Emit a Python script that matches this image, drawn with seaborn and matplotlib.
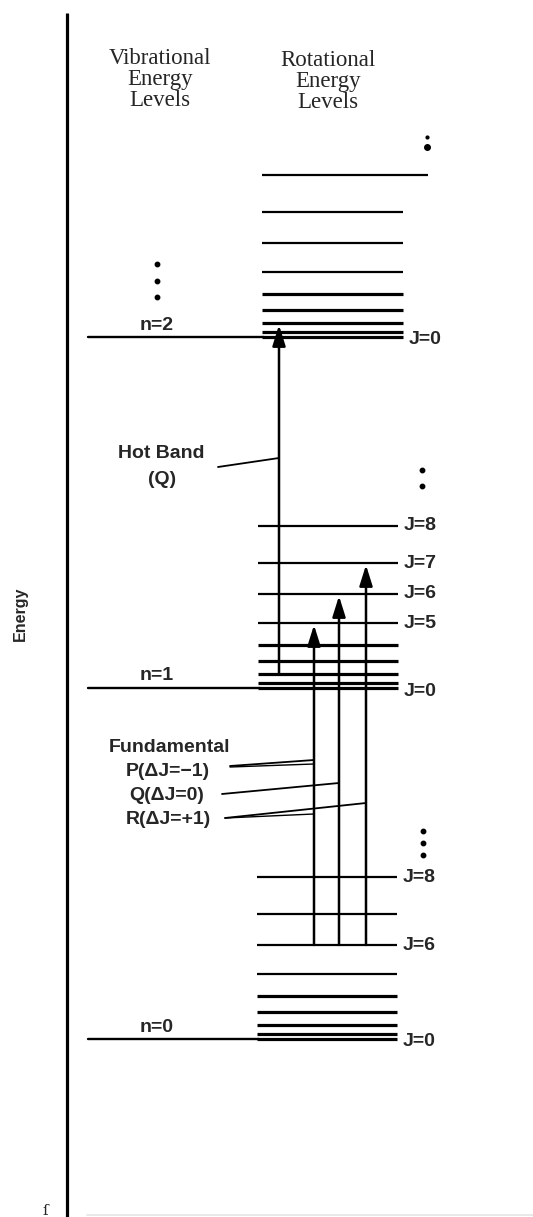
import numpy as np
import pandas as pd
import seaborn as sns
import matplotlib.pyplot as plt

# Niveis de energia (unidades arbitrarias, eixo para cima)
vib_labels = ["n=0", "n=1", "n=2"]
vib_energy = [178, 529, 880]
rot_J = [0, 1, 2, 3, 4, 5, 6, 7, 8]
rot_offset = [0, 5, 14, 27, 43, 65, 94, 125, 162]

# rotulos J mostrados em cada nivel vibracional
j_labels = {0: [0, 6, 8], 1: [0, 5, 6, 7, 8], 2: [0]}

# transicoes (n_inicial, J_inicial, n_final, J_final)
hot_band = (1, 2, 2, 2)
fundamental = {"P": (0, 6, 1, 5), "Q": (0, 6, 1, 6), "R": (0, 6, 1, 7)}

sns.set_theme(style="white")
plt.rcParams["font.family"] = ["Liberation Sans", "DejaVu Sans"]

W, H = 533, 1217
fig = plt.figure(figsize=(W / 100, H / 100), dpi=100)
ax = fig.add_axes([0, 0, 1, 1])
ax.set_xlim(0, W)
ax.set_ylim(0, H)
ax.axis("off")


def E(n, J):
    return vib_energy[n] + rot_offset[J]


# eixo de energia
ax.plot([67, 67], [0, H - 13], color="black", lw=2.3, solid_capstyle="butt")
ax.text(20, H - 614, "Energy", rotation=90, ha="center", va="center",
        fontsize=11.5, fontweight="bold")
ax.text(45, 6, "ſ", ha="center", va="center", fontsize=11, family="DejaVu Serif")
ax.plot([87, W], [2, 2], color="#e4e4e4", lw=1.2)

# titulos
serif = ["Liberation Serif", "DejaVu Serif"]
ax.text(160, H - 80, "Vibrational\nEnergy\nLevels", ha="center", va="center",
        fontsize=16.5, family=serif, linespacing=1.0)
ax.text(328, H - 81, "Rotational\nEnergy\nLevels", ha="center", va="center",
        fontsize=16.5, family=serif, linespacing=1.0)

# x de cada conjunto rotacional
rot_x = {0: (257, 397), 1: (258, 398), 2: (262, 403)}

for n, lab in enumerate(vib_labels):
    x0, x1 = rot_x[n]
    ax.plot([88, x0 + 2], [vib_energy[n]] * 2, color="black", lw=1.7)
    ax.text(157, vib_energy[n] + 12, lab, ha="center", va="center",
            fontsize=14, fontweight="bold")
    for J in rot_J:
        lw = 2.3 if J <= 4 else 1.6
        xe = x1
        if n == 2 and J == 8:
            xe = 428
        ax.plot([x0, xe], [E(n, J)] * 2, color="black", lw=lw, solid_capstyle="butt")
    for J in j_labels[n]:
        ax.text(x1 + 6, E(n, J) - 3 if J == 0 else E(n, J), f"J={J}",
                ha="left", va="center", fontsize=14, fontweight="bold")

# pontinhos (continuacao dos niveis)
for y in [264, 281, 297]:
    ax.plot(157, H - y, "o", color="black", ms=3.2)
for y in [831, 843, 855]:
    ax.plot(423, H - y, "o", color="black", ms=3.2)
for y in [470, 486]:
    ax.plot(422, H - y, "o", color="black", ms=3.2)
ax.plot(427, H - 137, "o", color="black", ms=2)
ax.plot(427, H - 147, "o", color="black", ms=4)


def seta(x, tr):
    n0, j0, n1, j1 = tr
    ax.annotate("", xy=(x, E(n1, j1) - 2), xytext=(x, E(n0, j0)),
                arrowprops=dict(arrowstyle="-|>,head_length=0.7,head_width=0.22",
                                color="black", lw=1.8, mutation_scale=18,
                                shrinkA=0, shrinkB=0))


seta(279, hot_band)
seta(314, fundamental["P"])
seta(339, fundamental["Q"])
seta(366, fundamental["R"])

# legendas das transicoes
ax.text(161, H - 454, "Hot Band", ha="center", va="center", fontsize=14, fontweight="bold")
ax.text(162, H - 480, "(Q)", ha="center", va="center", fontsize=14, fontweight="bold")
ax.plot([218, 279], [H - 467, H - 458], color="black", lw=1.3)

ax.text(170, H - 747, "Fundamental", ha="center", va="center", fontsize=14, fontweight="bold")
ax.text(168, H - 772, "P(\u0394J=\u22121)", ha="center", va="center", fontsize=14, fontweight="bold")
ax.text(167, H - 795, "Q(\u0394J=0)", ha="center", va="center", fontsize=14, fontweight="bold")
ax.text(168, H - 820, "R(\u0394J=+1)", ha="center", va="center", fontsize=14, fontweight="bold")
ax.plot([230, 314], [H - 766, H - 760], color="black", lw=1.3)
ax.plot([230, 314], [H - 767, H - 764], color="black", lw=1.0)
ax.plot([222, 339], [H - 794, H - 783], color="black", lw=1.3)
ax.plot([225, 366], [H - 818, H - 803], color="black", lw=1.3)
ax.plot([225, 314], [H - 818, H - 814], color="black", lw=1.0)

fig.savefig("out.png", dpi=100)
